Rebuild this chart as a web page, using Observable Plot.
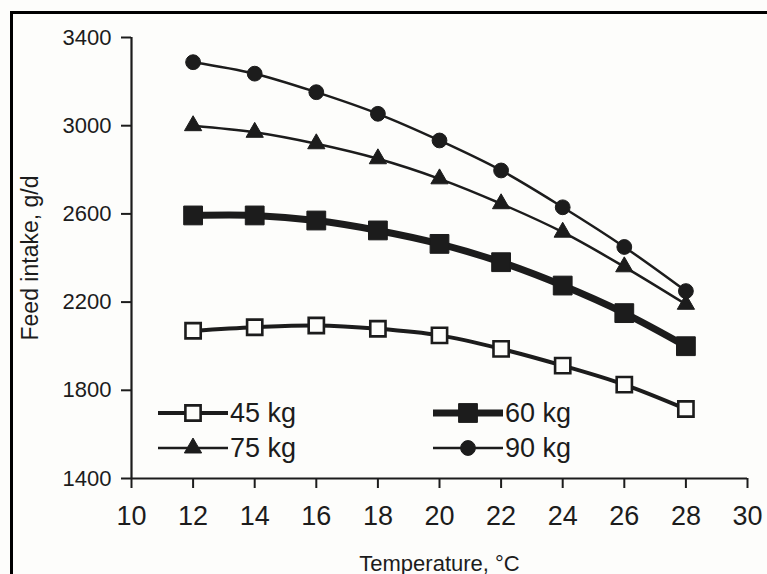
<!DOCTYPE html>
<html>
<head>
<meta charset="utf-8">
<script src="https://cdn.jsdelivr.net/npm/d3@7"></script>
<script src="https://cdn.jsdelivr.net/npm/@observablehq/plot@0.6"></script>
<style>
  html, body { margin: 0; padding: 0; background: #fdfdfb; }
  #wrap { position: relative; width: 767px; height: 574px; overflow: hidden; background: #fdfdfb; }
  #frame { position: absolute; left: 10px; top: 11px; right: -10px; bottom: -10px; border-left: 3px solid #000; border-top: 3px solid #000; pointer-events: none; }
  #legend { position: absolute; left: 0; top: 0; font-family: "Liberation Sans", Arial, sans-serif; color: #1c1c1c; }
  .entry { position: absolute; display: flex; align-items: center; height: 34px; font-size: 27px; white-space: nowrap; line-height: 34px; }
  .entry svg { display: block; flex: none; }
</style>
</head>
<body>
<div id="wrap"><div id="frame"></div><div id="legend"></div></div>
<script>
// ---- data ----
const temperature = [12, 14, 16, 18, 20, 22, 24, 26, 28];
const intake45 = [2070, 2086, 2094, 2079, 2049, 1988, 1912, 1826, 1715];
const intake60 = [2593, 2593, 2570, 2525, 2464, 2381, 2275, 2150, 2000];
const intake75 = [3000, 2970, 2918, 2850, 2759, 2646, 2517, 2360, 2190];
const intake90 = [3288, 3236, 3152, 3054, 2933, 2797, 2630, 2450, 2250];
const seriesNames = ["45 kg", "60 kg", "75 kg", "90 kg"];
const xTicks = [10, 12, 14, 16, 18, 20, 22, 24, 26, 28, 30];
const yTicks = [1400, 1800, 2200, 2600, 3000, 3400];
const xTitle = "Temperature, °C";
const yTitle = "Feed intake, g/d";

const ink = "#1c1c1c";
const styles = {
  "45 kg": {values: intake45, lineWidth: 4, symbol: "square", r: 8.6, fill: "#fdfdfb", stroke: ink, sw: 2.6},
  "60 kg": {values: intake60, lineWidth: 7, symbol: "square", r: 10.6, fill: ink, stroke: ink, sw: 1},
  "75 kg": {values: intake75, lineWidth: 2.5, symbol: "triangle", r: 6.4, fill: ink, stroke: ink, sw: 1},
  "90 kg": {values: intake90, lineWidth: 2.5, symbol: "circle", r: 7.4, fill: ink, stroke: ink, sw: 1}
};

const rows = seriesNames.flatMap(name => temperature.map((t, i) => ({series: name, t, v: styles[name].values[i]})));

const font = '"Liberation Sans", Arial, sans-serif';
const marks = [];
for (const name of seriesNames) {
  const s = styles[name];
  const d = rows.filter(r => r.series === name);
  marks.push(Plot.line(d, {x: "t", y: "v", curve: "catmull-rom", stroke: ink, strokeWidth: s.lineWidth}));
}
for (const name of seriesNames) {
  const s = styles[name];
  const d = rows.filter(r => r.series === name);
  marks.push(Plot.dot(d, {x: "t", y: "v", symbol: s.symbol, r: s.r, fill: s.fill, stroke: s.stroke, strokeWidth: s.sw}));
}

const chart = Plot.plot({
  width: 767,
  height: 574,
  marginLeft: 131,
  marginRight: 20,
  marginTop: 37,
  marginBottom: 96,
  style: {background: "transparent", fontFamily: font, color: ink, overflow: "visible"},
  x: {domain: [10, 30]},
  y: {domain: [1400, 3400]},
  marks: [
    Plot.axisX({ticks: xTicks, tickSize: 10, tickPadding: 17, fontSize: 27, label: null, strokeWidth: 2, stroke: ink, tickFormat: d => String(d)}),
    Plot.axisY({ticks: yTicks, tickSize: 10, tickPadding: 10, fontSize: 22, label: null, strokeWidth: 2, stroke: ink, tickFormat: d => String(d)}),
    Plot.ruleX([10], {stroke: ink, strokeWidth: 2.2}),
    Plot.ruleY([1400], {stroke: ink, strokeWidth: 2.2}),
    Plot.text([xTitle], {frameAnchor: "bottom", dy: 92, fontSize: 22, fill: ink, textAnchor: "middle"}),
    Plot.text([yTitle], {frameAnchor: "left", dx: -101, rotate: -90, fontSize: 23, fill: ink, textAnchor: "middle"}),
    ...marks
  ]
});
document.getElementById("wrap").insertBefore(chart, document.getElementById("frame"));

// ---- legend (HTML overlay inside the plot area) ----
const legendPos = {"45 kg": [158, 396], "60 kg": [433, 396], "75 kg": [158, 431], "90 kg": [433, 431]};
const legend = d3.select("#legend");
for (const name of seriesNames) {
  const s = styles[name];
  const [lx, ly] = legendPos[name];
  const e = legend.append("div").attr("class", "entry").style("left", lx + "px").style("top", ly + "px");
  const svg = e.append("svg").attr("width", 72).attr("height", 34);
  svg.append("line").attr("x1", 0).attr("x2", 70).attr("y1", 17).attr("y2", 17)
    .attr("stroke", ink).attr("stroke-width", s.lineWidth);
  const sym = {square: d3.symbolSquare, triangle: d3.symbolTriangle, circle: d3.symbolCircle}[s.symbol];
  svg.append("path").attr("transform", "translate(35,17)")
    .attr("d", d3.symbol(sym, Math.PI * s.r * s.r)())
    .attr("fill", s.fill).attr("stroke", s.stroke).attr("stroke-width", s.sw);
  e.append("span").text(name);
}
</script>
</body>
</html>
